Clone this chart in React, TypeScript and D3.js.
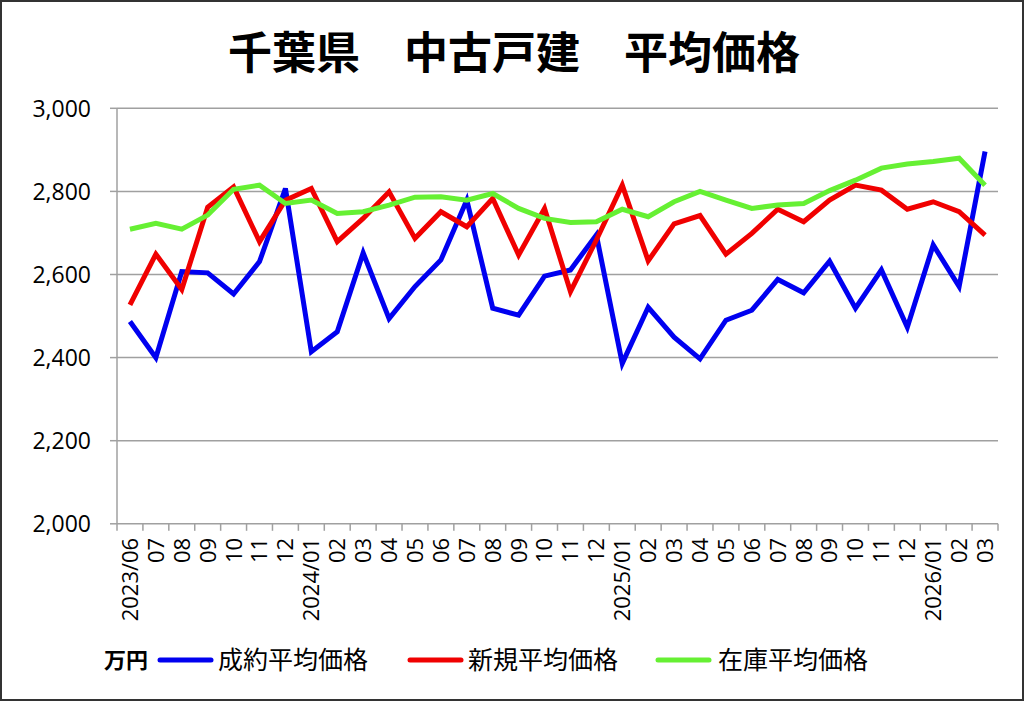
import React from "react";
import * as d3 from "d3";

const months: string[] = [
  "2023/06","07","08","09","10","11","12",
  "2024/01","02","03","04","05","06","07","08","09","10","11","12",
  "2025/01","02","03","04","05","06","07","08","09","10","11","12",
  "2026/01","02","03",
];

const seiyaku: number[] = [
  2487, 2400, 2607, 2604, 2553, 2631, 2807,
  2414, 2462, 2652, 2494, 2571, 2635, 2779, 2519, 2502, 2596, 2611, 2695,
  2386, 2521, 2449, 2397, 2490, 2514, 2588, 2556, 2632, 2519, 2611, 2473,
  2671, 2571, 2896,
];

const shinki: number[] = [
  2527, 2649, 2564, 2762, 2811, 2679, 2779,
  2807, 2679, 2735, 2799, 2687, 2751, 2715, 2783, 2647, 2759, 2559, 2683,
  2815, 2633, 2722, 2742, 2649, 2699, 2757, 2727, 2779, 2815, 2803, 2757,
  2775, 2751, 2695,
];

const zaiko: number[] = [
  2709, 2723, 2709, 2743, 2805, 2815, 2771,
  2779, 2747, 2751, 2767, 2786, 2787, 2779, 2795, 2759, 2735, 2725, 2727,
  2757, 2739, 2775, 2800, 2779, 2759, 2767, 2771, 2802, 2827, 2856, 2866,
  2872, 2880, 2815,
];

const yTicks: number[] = [2000, 2200, 2400, 2600, 2800, 3000];

const seriesNames: string[] = ["成約平均価格", "新規平均価格", "在庫平均価格"];
const seriesColors: string[] = ["#0000f0", "#f00000", "#66f033"];

const W = 1024;
const H = 701;
const left = 117;
const right = 998;
const top = 108.3;
const bottom = 523.8;

const FONT = "'Open Sans', 'Noto Sans CJK JP', sans-serif";
const JFONT = "'Noto Sans CJK JP', sans-serif";

export default function App() {
  const x = d3.scaleBand<number>().domain(d3.range(months.length)).range([left, right]);
  const y = d3.scaleLinear().domain([2000, 3000]).range([bottom, top]);
  const cx = (i: number) => (x(i) as number) + x.bandwidth() / 2;
  const line = d3.line<number>().x((_, i) => cx(i)).y((v) => y(v));
  const all = [seiyaku, shinki, zaiko];
  const tickXs = d3.range(months.length + 1).map((i) => left + i * x.step());

  const legendItems = [
    { lx: 160, tx: 218 },
    { lx: 410, tx: 468 },
    { lx: 658, tx: 718 },
  ];

  return (
    <svg width={W} height={H} style={{ position: "absolute", left: 0, top: 0, background: "#fff" }}>
      <rect x={1} y={1} width={W - 2} height={H - 2} fill="#fff" stroke="#333" strokeWidth={2} />
      <text x={514} y={69} textAnchor="middle" fontFamily={JFONT} fontWeight={700} fontSize={44} fill="#000">
        千葉県　中古戸建　平均価格
      </text>
      {yTicks.map((t) => (
        <g key={t}>
          {t !== 2000 && (
            <line x1={left} x2={right} y1={y(t)} y2={y(t)} stroke="#a0a0a0" strokeWidth={1.5} />
          )}
          <line x1={left - 7} x2={left} y1={y(t)} y2={y(t)} stroke="#a0a0a0" strokeWidth={1.5} />
          <text x={91} y={y(t)} dy="0.36em" textAnchor="end" fontFamily={FONT} fontSize={23} fill="#000">
            {d3.format(",")(t)}
          </text>
        </g>
      ))}
      <line x1={left} x2={left} y1={top} y2={bottom} stroke="#a0a0a0" strokeWidth={1.5} />
      <line x1={left} x2={right} y1={bottom} y2={bottom} stroke="#a0a0a0" strokeWidth={1.5} />
      {tickXs.map((tx, i) => (
        <line key={i} x1={tx} x2={tx} y1={bottom} y2={bottom + 7} stroke="#a0a0a0" strokeWidth={1.5} />
      ))}
      {months.map((m, i) => (
        <text
          key={i}
          transform={`translate(${cx(i)},${bottom + 14}) rotate(-90)`}
          textAnchor="end"
          dy="0.36em"
          fontFamily={FONT}
          fontSize={22}
          fill="#000"
        >
          {m}
        </text>
      ))}
      {all.map((s, k) => (
        <path
          key={k}
          d={line(s) as string}
          fill="none"
          stroke={seriesColors[k]}
          strokeWidth={5}
          strokeLinejoin="miter"
        />
      ))}
      <text x={104} y={660} dy="0.36em" fontFamily={JFONT} fontWeight={700} fontSize={22} fill="#000">
        万円
      </text>
      {legendItems.map((it, k) => (
        <g key={k}>
          <line x1={it.lx} x2={it.lx + 51} y1={660} y2={660} stroke={seriesColors[k]} strokeWidth={5} strokeLinecap="round" />
          <text x={it.tx} y={660} dy="0.36em" fontFamily={JFONT} fontSize={25} fill="#000">
            {seriesNames[k]}
          </text>
        </g>
      ))}
    </svg>
  );
}
